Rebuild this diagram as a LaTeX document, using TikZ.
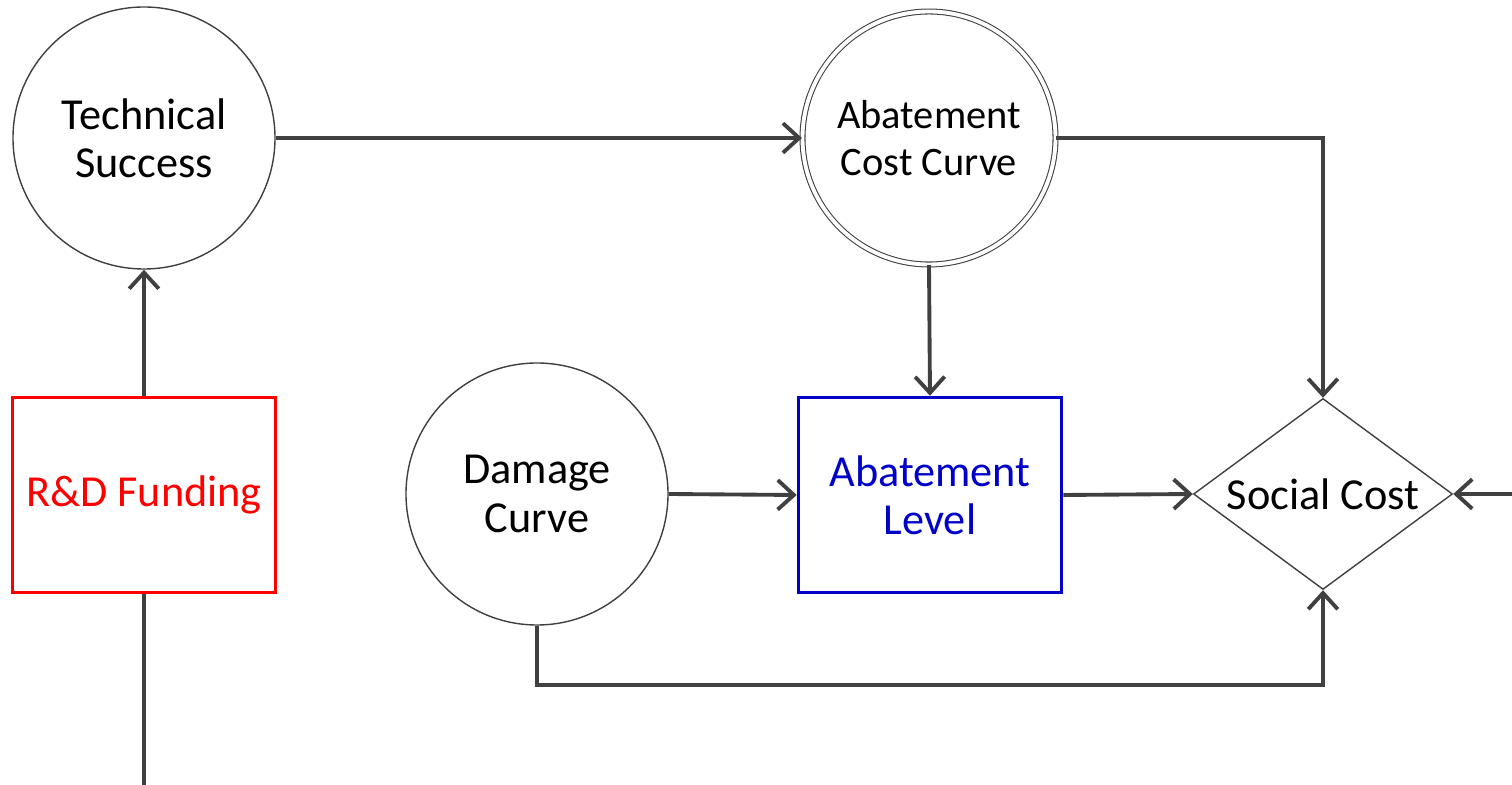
\documentclass[tikz,border=0pt]{standalone}
\usepackage{fontspec}
\setmainfont{Carlito}
\usepackage{xcolor}
\usetikzlibrary{shapes.geometric,arrows.meta}

\definecolor{linegray}{HTML}{404040}
\definecolor{levelblue}{HTML}{0000C8}

\begin{document}
\begin{tikzpicture}[
    font=\fontsize{12.6pt}{13.7pt}\selectfont,
    every node/.style={align=center},
    chance/.style={circle,draw=black!75,line width=0.4pt,minimum size=2.62cm,inner sep=0pt},
    output/.style={circle,draw=black!75,line width=0.3pt,double,double distance=1.1pt,minimum size=2.53cm,inner sep=0pt,
      font=\fontsize{11.5pt}{13.2pt}\selectfont},
    decision/.style={rectangle,line width=1pt,minimum width=2.63cm,minimum height=1.95cm,inner sep=0pt},
    value/.style={diamond,draw=black!75,line width=0.4pt,minimum width=2.59cm,minimum height=1.91cm,aspect=1.36,inner sep=0pt},
    link/.style={draw=linegray,line width=1.1pt,-{Straight Barb[length=4.6pt,width=8.4pt,line width=1.1pt]}}
  ]
    \useasboundingbox (0,0) rectangle (15.12,7.85);

    % nodes
    \node[chance] (tech) at (1.44,6.47) {Technical\\Success};
    \node[output] (acc) at (9.29,6.47) {Abatement\\Cost Curve};
    \node[chance] (dmg) at (5.37,2.91) {Damage\\Curve};
    \node[decision,draw=red,text=red] (fund) at (1.44,2.90) {R\&D Funding};
    \node[decision,draw=levelblue,text=levelblue] (level) at (9.30,2.90) {Abatement\\Level};
    \node[value] (social) at (13.23,2.91) {Social Cost};

    \coordinate (fundin) at (1.44,0);
    \coordinate (costin) at (15.12,2.91);

    % connectors
    \draw[draw=linegray,line width=1.1pt] (fundin) -- (fund.south);
    \draw[link] (fund.north) -- (tech.south);
    \draw[link] (tech.east) -- (acc.west);
    \draw[link] (acc.east) -| (social.north);
    \draw[link] (acc.south) -- (level.north);
    \draw[link] (dmg.east) -- (level.west);
    \draw[link] (level.east) -- (social.west);
    \draw[link] (costin) -- (social.east);
    \draw[link] (dmg.south) -- ++(0,-0.59) -| (social.south);
\end{tikzpicture}
\end{document}
